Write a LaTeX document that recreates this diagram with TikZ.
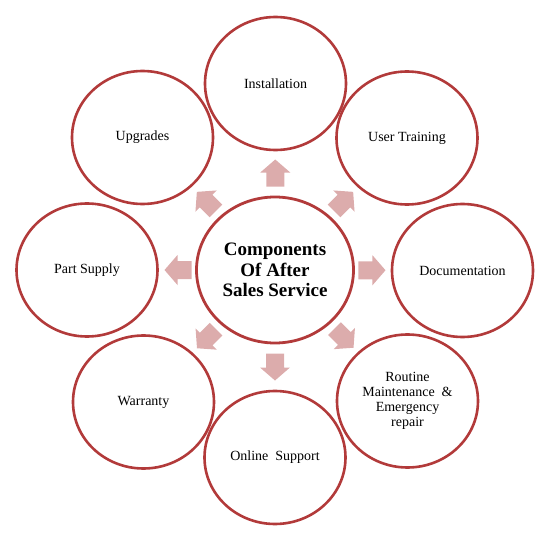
\documentclass[tikz,border=0pt]{standalone}
\usepackage{fontspec}
\setmainfont{Liberation Serif}
\usetikzlibrary{shapes.geometric,calc}
\definecolor{ringred}{RGB}{178,58,58}
\definecolor{arrowpink}{RGB}{220,172,172}
\tikzset{
  outer/.style={ellipse,draw=ringred,line width=2.6pt,minimum width=141pt,minimum height=133pt,inner sep=0pt,align=center,font=\fontsize{14}{15}\selectfont},
  hub/.style={ellipse,draw=ringred,line width=2.8pt,minimum width=157pt,minimum height=146pt,inner sep=0pt,align=center,font=\fontsize{19}{20.5}\selectfont\bfseries},
  blockarrow/.pic={\fill[arrowpink] (-13.5,-9) -- (0.5,-9) -- (0.5,-15) -- (13.5,0) -- (0.5,15) -- (0.5,9) -- (-13.5,9) -- cycle;}
}
\begin{document}
\begin{tikzpicture}[x=1pt,y=-1pt]
\useasboundingbox (0,0) rectangle (550,541);
\node[hub] (c) at (275,270) {Components\\Of After\\Sales Service};
\node[outer] (n1) at (275.5,83.5) {Installation};
\node[outer] (n2) at (407,138) {User Training};
\node[outer] (n3) at (462.5,270.5) {Documentation};
\node[outer] (n4) at (407.5,401) {Routine\\Maintenance~ \&\\Emergency\\repair};
\node[outer] (n5) at (275,457.5) {Online~ Support};
\node[outer] (n6) at (143.5,402) {Warranty};
\node[outer] (n7) at (87,270) {Part Supply};
\node[outer] (n8) at (142.5,137.5) {Upgrades};
\foreach \n/\a in {n1/90,n2/45,n3/0,n4/-45,n5/-90,n6/-135,n7/180,n8/135}{
  \path ($(c.center)!97pt!(\n.center)$) pic[rotate=\a] {blockarrow};
}
\end{tikzpicture}
\end{document}
